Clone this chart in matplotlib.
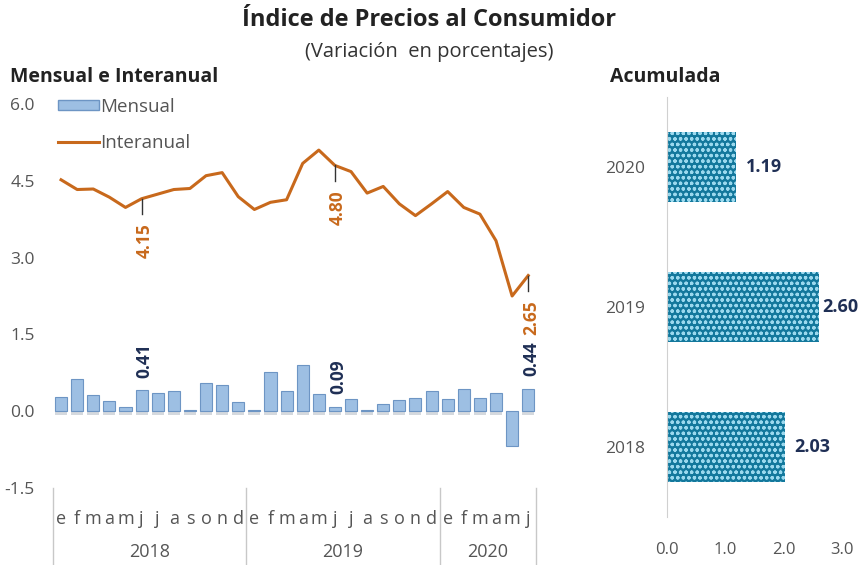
import matplotlib.pyplot as plt
from matplotlib.lines import Line2D
from matplotlib.patches import Patch

plt.rcParams['font.family'] = ['Open Sans', 'DejaVu Sans']
plt.rcParams['hatch.linewidth'] = 0.9

# datos mensuales ene-2018 a jun-2020
meses = ['e', 'f', 'm', 'a', 'm', 'j', 'j', 'a', 's', 'o', 'n', 'd'] * 2 + ['e', 'f', 'm', 'a', 'm', 'j']
anios = ['2018', '2019', '2020']
interanual = [4.52, 4.33, 4.34, 4.18, 3.98, 4.15, 4.24, 4.33, 4.35, 4.60, 4.66, 4.19,
              3.94, 4.08, 4.13, 4.84, 5.10, 4.80, 4.68, 4.26, 4.39, 4.05, 3.82, 4.05,
              4.29, 3.98, 3.85, 3.33, 2.25, 2.65]
mensual = [0.27, 0.62, 0.31, 0.19, 0.08, 0.41, 0.36, 0.40, 0.02, 0.55, 0.51, 0.18,
           0.02, 0.76, 0.39, 0.90, 0.34, 0.09, 0.24, 0.03, 0.14, 0.22, 0.26, 0.39,
           0.24, 0.44, 0.26, 0.36, -0.68, 0.44]
acumulada = [2.03, 2.60, 1.19]
# meses con etiqueta (junio de cada año)
marcados = [5, 17, 29]

naranja = '#c8691c'
azul_osc = '#1f2f55'
gris = '#555555'

fig = plt.figure(figsize=(8.59, 5.65), dpi=100)

fig.text(0.5, 0.965, 'Índice de Precios al Consumidor', ha='center', va='center',
         fontsize=17, fontweight='bold', color='#222222')
fig.text(0.5, 0.908, '(Variación  en porcentajes)', ha='center', va='center',
         fontsize=14.5, color='#333333')
fig.text(0.012, 0.864, 'Mensual e Interanual', ha='left', va='center',
         fontsize=14, fontweight='bold', color='#222222')
fig.text(0.71, 0.864, 'Acumulada', ha='left', va='center',
         fontsize=14, fontweight='bold', color='#222222')

# ---- panel izquierdo
ax = fig.add_axes([0.0617, 0.1363, 0.5626, 0.6796])
x = list(range(len(meses)))
ax.bar(x, [-0.07] * len(x), width=0.75, color='#d5d9de', zorder=1)
ax.bar(x, mensual, width=0.75, color='#9dbfe3', edgecolor='#6d95c4', linewidth=0.8, zorder=2)
ax.plot(x, interanual, color=naranja, lw=2.2, zorder=3)

for i in marcados:
    v = interanual[i]
    ax.plot([i, i], [v, v - 0.3], color='#333333', lw=1, zorder=4)
    ax.text(i + 0.2, v - 0.82, f'{v:.2f}', rotation=90, ha='center', va='center',
            fontsize=12.5, fontweight='bold', color=naranja)
    b = mensual[i]
    ax.text(i + 0.2, b + 0.58, f'{b:.2f}', rotation=90, ha='center', va='center',
            fontsize=12.5, fontweight='bold', color=azul_osc)

ax.set_xlim(-0.5, len(x) - 0.5)
ax.set_ylim(-1.5, 6.0)
ax.set_yticks([-1.5, 0.0, 1.5, 3.0, 4.5, 6.0])
ax.set_yticklabels(['-1.5', '0.0', '1.5', '3.0', '4.5', '6.0'])
ax.set_xticks(x)
ax.set_xticklabels(meses)
ax.tick_params(axis='y', length=0, pad=13, labelsize=12.5, labelcolor=gris)
ax.tick_params(axis='x', length=0, pad=16, labelsize=13, labelcolor=gris)
for s in ax.spines.values():
    s.set_visible(False)

# separadores y años
for xs in [-0.5, 11.5, 23.5, 29.5]:
    ax.add_line(Line2D([xs, xs], [-1.5, -3.0], color='#c8c8c8', lw=1, clip_on=False))
for k, (a, b) in enumerate([(-0.5, 11.5), (11.5, 23.5), (23.5, 29.5)]):
    ax.text((a + b) / 2, -2.75, anios[k], ha='center', va='center', fontsize=13, color=gris)

handles = [Patch(facecolor='#9dbfe3', edgecolor='#6d95c4'),
           Line2D([0], [0], color=naranja, lw=2.2)]
ax.legend(handles, ['Mensual', 'Interanual'], loc='upper left', bbox_to_anchor=(-0.025, 1.06),
          frameon=False, fontsize=13.5, handlelength=2.2, handleheight=0.4, handletextpad=0.05,
          labelspacing=0.95, labelcolor=gris)

# ---- panel derecho
ax2 = fig.add_axes([0.7765, 0.085, 0.2037, 0.743])
y = list(range(len(anios)))
ax2.barh(y, acumulada, height=0.5, color='#13789c', edgecolor='#9bd9ee', hatch='ooo',
         linewidth=0, zorder=2)
for yi, v in zip(y, acumulada):
    # la etiqueta mas larga queda pegada al borde derecho
    ax2.text(min(v + 0.16, 2.66), yi, f'{v:.2f}', ha='left', va='center', fontsize=13,
             fontweight='bold', color=azul_osc, clip_on=False)
ax2.set_xlim(0, 3.0)
ax2.set_ylim(-0.5, 2.5)
ax2.set_xticks([0, 1, 2, 3])
ax2.set_xticklabels(['0.0', '1.0', '2.0', '3.0'])
ax2.set_yticks(y)
ax2.set_yticklabels(anios)
ax2.tick_params(axis='y', length=0, pad=16, labelsize=12.5, labelcolor=gris)
ax2.tick_params(axis='x', length=0, pad=18, labelsize=12, labelcolor=gris)
for s in ['top', 'right', 'bottom']:
    ax2.spines[s].set_visible(False)
ax2.spines['left'].set_color('#d0d0d0')

fig.savefig('out.png', dpi=100)
